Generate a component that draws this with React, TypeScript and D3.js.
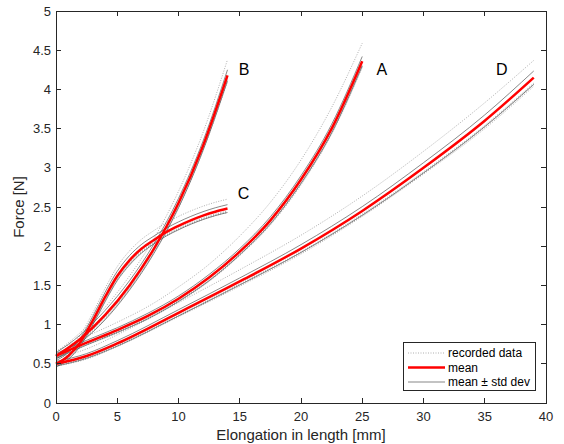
import React, { useEffect, useRef } from 'react';
import * as d3 from 'd3';

// elongation grids (mm) per specimen group
const xA = [0, 2.5, 5, 7.5, 10, 12.5, 15, 17.5, 20, 22.5, 25];
const xB = [0, 2, 4, 6, 8, 10, 12, 14];
const xC = [0, 1, 2, 3, 4, 5, 6, 7, 8, 9, 10, 11, 12, 13, 14];
const xD = [0, 2.5, 5, 10, 15, 20, 25, 30, 35, 39];

// mean force (N)
const meanA = [0.6, 0.77, 0.93, 1.11, 1.33, 1.6, 1.93, 2.33, 2.85, 3.5, 4.36];
const meanB = [0.6, 0.82, 1.12, 1.5, 1.97, 2.55, 3.28, 4.18];
const meanC = [0.5, 0.6, 0.78, 1.05, 1.35, 1.62, 1.82, 1.97, 2.08, 2.18, 2.26, 2.33, 2.39, 2.44, 2.48];
const meanD = [0.5, 0.6, 0.76, 1.15, 1.55, 1.97, 2.45, 3.0, 3.6, 4.15];

// standard deviation (N)
const sdA = [0.03, 0.03, 0.03, 0.035, 0.035, 0.04, 0.04, 0.045, 0.05, 0.055, 0.06];
const sdB = [0.04, 0.05, 0.06, 0.06, 0.06, 0.06, 0.06, 0.07];
const sdC = [0.04, 0.045, 0.05, 0.055, 0.06, 0.06, 0.06, 0.055, 0.05, 0.05, 0.05, 0.05, 0.05, 0.05, 0.05];
const sdD = [0.03, 0.03, 0.035, 0.04, 0.045, 0.05, 0.055, 0.065, 0.075, 0.085];

// recorded curves
const recA = [
  [0.66, 0.85, 1.03, 1.23, 1.48, 1.77, 2.13, 2.56, 3.1, 3.77, 4.59],
  [0.58, 0.75, 0.9, 1.08, 1.3, 1.56, 1.89, 2.28, 2.8, 3.44, 4.3],
  [0.59, 0.76, 0.91, 1.09, 1.31, 1.57, 1.9, 2.3, 2.81, 3.46, 4.31],
  [0.57, 0.74, 0.89, 1.07, 1.29, 1.55, 1.88, 2.27, 2.78, 3.43, 4.28],
];
const recB = [
  [0.65, 0.9, 1.22, 1.62, 2.1, 2.7, 3.45, 4.38],
  [0.58, 0.79, 1.08, 1.46, 1.93, 2.5, 3.23, 4.12],
  [0.59, 0.8, 1.1, 1.47, 1.95, 2.52, 3.25, 4.14],
  [0.57, 0.78, 1.07, 1.45, 1.92, 2.49, 3.22, 4.1],
];
const recC = [
  [0.56, 0.68, 0.87, 1.15, 1.46, 1.74, 1.94, 2.09, 2.2, 2.3, 2.38, 2.45, 2.51, 2.56, 2.6],
  [0.48, 0.57, 0.75, 1.01, 1.31, 1.58, 1.78, 1.93, 2.04, 2.14, 2.22, 2.29, 2.35, 2.4, 2.44],
  [0.49, 0.58, 0.76, 1.02, 1.32, 1.59, 1.79, 1.94, 2.05, 2.15, 2.23, 2.3, 2.36, 2.41, 2.45],
  [0.47, 0.56, 0.74, 1.0, 1.3, 1.57, 1.77, 1.92, 2.03, 2.13, 2.21, 2.28, 2.34, 2.39, 2.43],
];
const recD = [
  [0.57, 0.69, 0.87, 1.28, 1.7, 2.14, 2.64, 3.21, 3.83, 4.37],
  [0.48, 0.57, 0.73, 1.11, 1.51, 1.92, 2.39, 2.93, 3.52, 4.06],
  [0.49, 0.58, 0.74, 1.12, 1.52, 1.93, 2.41, 2.95, 3.54, 4.08],
  [0.47, 0.56, 0.72, 1.1, 1.49, 1.9, 2.38, 2.92, 3.5, 4.04],
];

// group labels
const groupNames = ['A', 'B', 'C', 'D'];
const labelX = [26.6, 15.35, 15.3, 36.4];
const labelY = [4.25, 4.25, 2.67, 4.25];

const xTicks = [0, 5, 10, 15, 20, 25, 30, 35, 40];
const yTicks = [0, 0.5, 1, 1.5, 2, 2.5, 3, 3.5, 4, 4.5, 5];
const legendLabels = ['recorded data', 'mean', 'mean \u00b1 std dev'];

const W = 564, H = 444;
const left = 56, right = 546, top = 11, bottom = 403;
const FONT = '"Liberation Sans", Arial, Helvetica, sans-serif';
const AXC = '#262626';

export default function App() {
  const ref = useRef<SVGSVGElement>(null);

  useEffect(() => {
    const svg = d3.select(ref.current);
    svg.selectAll('*').remove();

    const x = d3.scaleLinear().domain([0, 40]).range([left, right]);
    const y = d3.scaleLinear().domain([0, 5]).range([bottom, top]);

    const groups = [
      { xs: xA, mean: meanA, sd: sdA, rec: recA },
      { xs: xB, mean: meanB, sd: sdB, rec: recB },
      { xs: xC, mean: meanC, sd: sdC, rec: recC },
      { xs: xD, mean: meanD, sd: sdD, rec: recD },
    ];

    const line = d3.line<[number, number]>()
      .x(d => x(d[0]))
      .y(d => y(d[1]))
      .curve(d3.curveMonotoneX);

    const plot = svg.append('g');

    // recorded data
    groups.forEach(g => {
      g.rec.forEach(r => {
        plot.append('path')
          .attr('d', line(g.xs.map((v, i) => [v, r[i]] as [number, number])))
          .attr('fill', 'none')
          .attr('stroke', '#9a9a9a')
          .attr('stroke-width', 0.8)
          .attr('stroke-dasharray', '1,1.5');
      });
    });

    // mean +- std dev
    groups.forEach(g => {
      [1, -1].forEach(s => {
        plot.append('path')
          .attr('d', line(g.xs.map((v, i) => [v, g.mean[i] + s * g.sd[i]] as [number, number])))
          .attr('fill', 'none')
          .attr('stroke', '#555')
          .attr('stroke-width', 0.7);
      });
    });

    // mean
    groups.forEach(g => {
      plot.append('path')
        .attr('d', line(g.xs.map((v, i) => [v, g.mean[i]] as [number, number])))
        .attr('fill', 'none')
        .attr('stroke', '#ff0000')
        .attr('stroke-width', 2.5);
    });

    // labels
    groupNames.forEach((n, i) => {
      svg.append('text')
        .attr('x', x(labelX[i]))
        .attr('y', y(labelY[i]))
        .attr('text-anchor', 'middle')
        .attr('dominant-baseline', 'central')
        .attr('font-family', FONT)
        .attr('font-size', 16)
        .attr('fill', '#000')
        .text(n);
    });

    // axes box and ticks
    const ax = svg.append('g').attr('shape-rendering', 'crispEdges');
    ax.append('rect')
      .attr('x', left).attr('y', top)
      .attr('width', right - left).attr('height', bottom - top)
      .attr('fill', 'none').attr('stroke', AXC).attr('stroke-width', 1);

    xTicks.forEach(t => {
      ax.append('line').attr('x1', x(t)).attr('x2', x(t)).attr('y1', bottom).attr('y2', bottom - 5).attr('stroke', AXC);
      ax.append('line').attr('x1', x(t)).attr('x2', x(t)).attr('y1', top).attr('y2', top + 5).attr('stroke', AXC);
      svg.append('text')
        .attr('x', x(t)).attr('y', bottom + 18)
        .attr('text-anchor', 'middle')
        .attr('font-family', FONT).attr('font-size', 13).attr('fill', AXC)
        .text(String(t));
    });
    yTicks.forEach(t => {
      ax.append('line').attr('x1', left).attr('x2', left + 5).attr('y1', y(t)).attr('y2', y(t)).attr('stroke', AXC);
      ax.append('line').attr('x1', right).attr('x2', right - 5).attr('y1', y(t)).attr('y2', y(t)).attr('stroke', AXC);
      svg.append('text')
        .attr('x', left - 5).attr('y', y(t))
        .attr('text-anchor', 'end')
        .attr('dominant-baseline', 'central')
        .attr('font-family', FONT).attr('font-size', 13).attr('fill', AXC)
        .text(String(t));
    });

    svg.append('text')
      .attr('x', (left + right) / 2).attr('y', 440)
      .attr('text-anchor', 'middle')
      .attr('font-family', FONT).attr('font-size', 15).attr('fill', AXC)
      .text('Elongation in length [mm]');
    svg.append('text')
      .attr('transform', `translate(24,${(top + bottom) / 2}) rotate(-90)`)
      .attr('text-anchor', 'middle')
      .attr('font-family', FONT).attr('font-size', 15).attr('fill', AXC)
      .text('Force [N]');

    // legend
    const lg = svg.append('g');
    lg.append('rect')
      .attr('x', 403.5).attr('y', 342.5).attr('width', 132).attr('height', 48)
      .attr('fill', '#fff').attr('stroke', AXC).attr('stroke-width', 1);
    const rowY = [353, 367.5, 382];
    const styles = [
      { stroke: '#9a9a9a', w: 0.8, dash: '1,1.5' },
      { stroke: '#ff0000', w: 2.5, dash: null },
      { stroke: '#555', w: 0.7, dash: null },
    ];
    legendLabels.forEach((lab, i) => {
      lg.append('line')
        .attr('x1', 408).attr('x2', 445).attr('y1', rowY[i]).attr('y2', rowY[i])
        .attr('stroke', styles[i].stroke).attr('stroke-width', styles[i].w)
        .attr('stroke-dasharray', styles[i].dash);
      lg.append('text')
        .attr('x', 448).attr('y', rowY[i])
        .attr('dominant-baseline', 'central')
        .attr('font-family', FONT).attr('font-size', 12).attr('fill', '#000')
        .text(lab);
    });
  }, []);

  return (
    <svg ref={ref} width={W} height={H}
      style={{ position: 'absolute', left: 0, top: 0, background: '#fff' }} />
  );
}
